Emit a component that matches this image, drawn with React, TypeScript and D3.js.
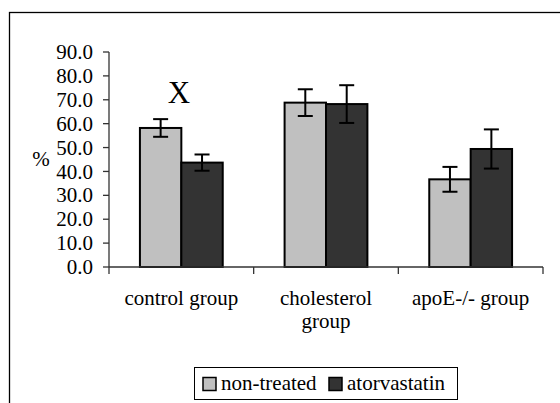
import { useEffect, useRef } from "react";
import * as d3 from "d3";

const categories = ["control group", "cholesterol group", "apoE-/- group"];
const categoryLines = [["control group"], ["cholesterol", "group"], ["apoE-/- group"]];
const seriesNames = ["non-treated", "atorvastatin"];
const nonTreated = [58.2, 68.8, 36.7];
const nonTreatedErr = [3.7, 5.6, 5.2];
const atorvastatin = [43.7, 68.2, 49.4];
const atorvastatinErr = [3.4, 7.9, 8.2];
const seriesColors = ["#c0c0c0", "#333333"];
const yTicks = [0, 10, 20, 30, 40, 50, 60, 70, 80, 90];

const FONT = "'Liberation Serif', 'Times New Roman', serif";

const App = () => {
  const svgRef = useRef<SVGSVGElement>(null);

  useEffect(() => {
    const svg = d3.select(svgRef.current);
    svg.selectAll("*").remove();
    svg.attr("font-family", FONT).attr("font-size", 21);

    // outer chart frame (runs off the right and bottom edge)
    svg
      .append("rect")
      .attr("x", 9.5)
      .attr("y", 12.5)
      .attr("width", 600)
      .attr("height", 450)
      .attr("fill", "white")
      .attr("stroke", "#000")
      .attr("stroke-width", 1.3);

    const x = d3.scaleBand().domain(categories).range([109, 543]);
    const xSub = d3
      .scaleBand()
      .domain(seriesNames)
      .range([0, x.bandwidth()])
      .paddingOuter(0.747);
    const y = d3.scaleLinear().domain([0, 90]).range([267, 52]);

    const data = categories.flatMap((c, i) => [
      { cat: c, s: seriesNames[0], v: nonTreated[i], e: nonTreatedErr[i], color: seriesColors[0] },
      { cat: c, s: seriesNames[1], v: atorvastatin[i], e: atorvastatinErr[i], color: seriesColors[1] },
    ]);

    // y axis
    const yAxis = svg.append("g");
    yAxis
      .append("line")
      .attr("x1", 109)
      .attr("x2", 109)
      .attr("y1", y(90))
      .attr("y2", y(0))
      .attr("stroke", "#333")
      .attr("stroke-width", 1.3);
    yAxis
      .selectAll("line.tick")
      .data(yTicks)
      .enter()
      .append("line")
      .attr("class", "tick")
      .attr("x1", 103)
      .attr("x2", 109)
      .attr("y1", (d) => y(d))
      .attr("y2", (d) => y(d))
      .attr("stroke", "#333")
      .attr("stroke-width", 1.3);
    yAxis
      .selectAll("text")
      .data(yTicks)
      .enter()
      .append("text")
      .attr("x", 93)
      .attr("y", (d) => y(d))
      .attr("dy", "0.34em")
      .attr("text-anchor", "end")
      .text((d) => d.toFixed(1));

    svg
      .append("text")
      .attr("x", 41)
      .attr("y", 166)
      .attr("text-anchor", "middle")
      .text("%");

    // bars
    svg
      .append("g")
      .selectAll("rect")
      .data(data)
      .enter()
      .append("rect")
      .attr("x", (d) => x(d.cat)! + xSub(d.s)!)
      .attr("y", (d) => y(d.v))
      .attr("width", xSub.bandwidth())
      .attr("height", (d) => y(0) - y(d.v))
      .attr("fill", (d) => d.color)
      .attr("stroke", "#000")
      .attr("stroke-width", 2);

    // error bars
    const err = svg.append("g").attr("stroke", "#000").attr("stroke-width", 2);
    data.forEach((d) => {
      const cx = x(d.cat)! + xSub(d.s)! + xSub.bandwidth() / 2;
      err.append("line").attr("x1", cx).attr("x2", cx).attr("y1", y(d.v + d.e)).attr("y2", y(d.v - d.e));
      err.append("line").attr("x1", cx - 7.5).attr("x2", cx + 7.5).attr("y1", y(d.v + d.e)).attr("y2", y(d.v + d.e));
      err.append("line").attr("x1", cx - 7.5).attr("x2", cx + 7.5).attr("y1", y(d.v - d.e)).attr("y2", y(d.v - d.e));
    });

    // x axis
    const xAxis = svg.append("g");
    xAxis
      .append("line")
      .attr("x1", 109)
      .attr("x2", 543)
      .attr("y1", y(0))
      .attr("y2", y(0))
      .attr("stroke", "#333")
      .attr("stroke-width", 1.3);
    const xTickPos = [...categories.map((c) => x(c)!), x.range()[1]];
    xAxis
      .selectAll("line.tick")
      .data(xTickPos)
      .enter()
      .append("line")
      .attr("class", "tick")
      .attr("x1", (d) => d)
      .attr("x2", (d) => d)
      .attr("y1", y(0))
      .attr("y2", y(0) + 7)
      .attr("stroke", "#333")
      .attr("stroke-width", 1.3);
    categories.forEach((c, i) => {
      const t = xAxis.append("text").attr("text-anchor", "middle");
      categoryLines[i].forEach((line, j) => {
        t.append("tspan")
          .attr("x", x(c)! + x.bandwidth() / 2)
          .attr("y", 305 + j * 23)
          .text(line);
      });
    });

    // significance mark
    svg
      .append("text")
      .attr("x", 179)
      .attr("y", 103)
      .attr("text-anchor", "middle")
      .attr("font-size", 31)
      .text("X");

    // legend
    const legend = svg.append("g");
    legend
      .append("rect")
      .attr("x", 194.5)
      .attr("y", 367.5)
      .attr("width", 263)
      .attr("height", 32)
      .attr("fill", "white")
      .attr("stroke", "#000")
      .attr("stroke-width", 1);
    const legendX = [203, 329];
    seriesNames.forEach((s, i) => {
      legend
        .append("rect")
        .attr("x", legendX[i])
        .attr("y", 377.5)
        .attr("width", 13)
        .attr("height", 13)
        .attr("fill", seriesColors[i])
        .attr("stroke", "#000")
        .attr("stroke-width", 1.5);
      legend
        .append("text")
        .attr("x", legendX[i] + 18)
        .attr("y", 390)
        .text(s);
    });
  }, []);

  return (
    <svg
      ref={svgRef}
      width={560}
      height={403}
      style={{ position: "absolute", left: 0, top: 0, background: "white" }}
    />
  );
};

export default App;
